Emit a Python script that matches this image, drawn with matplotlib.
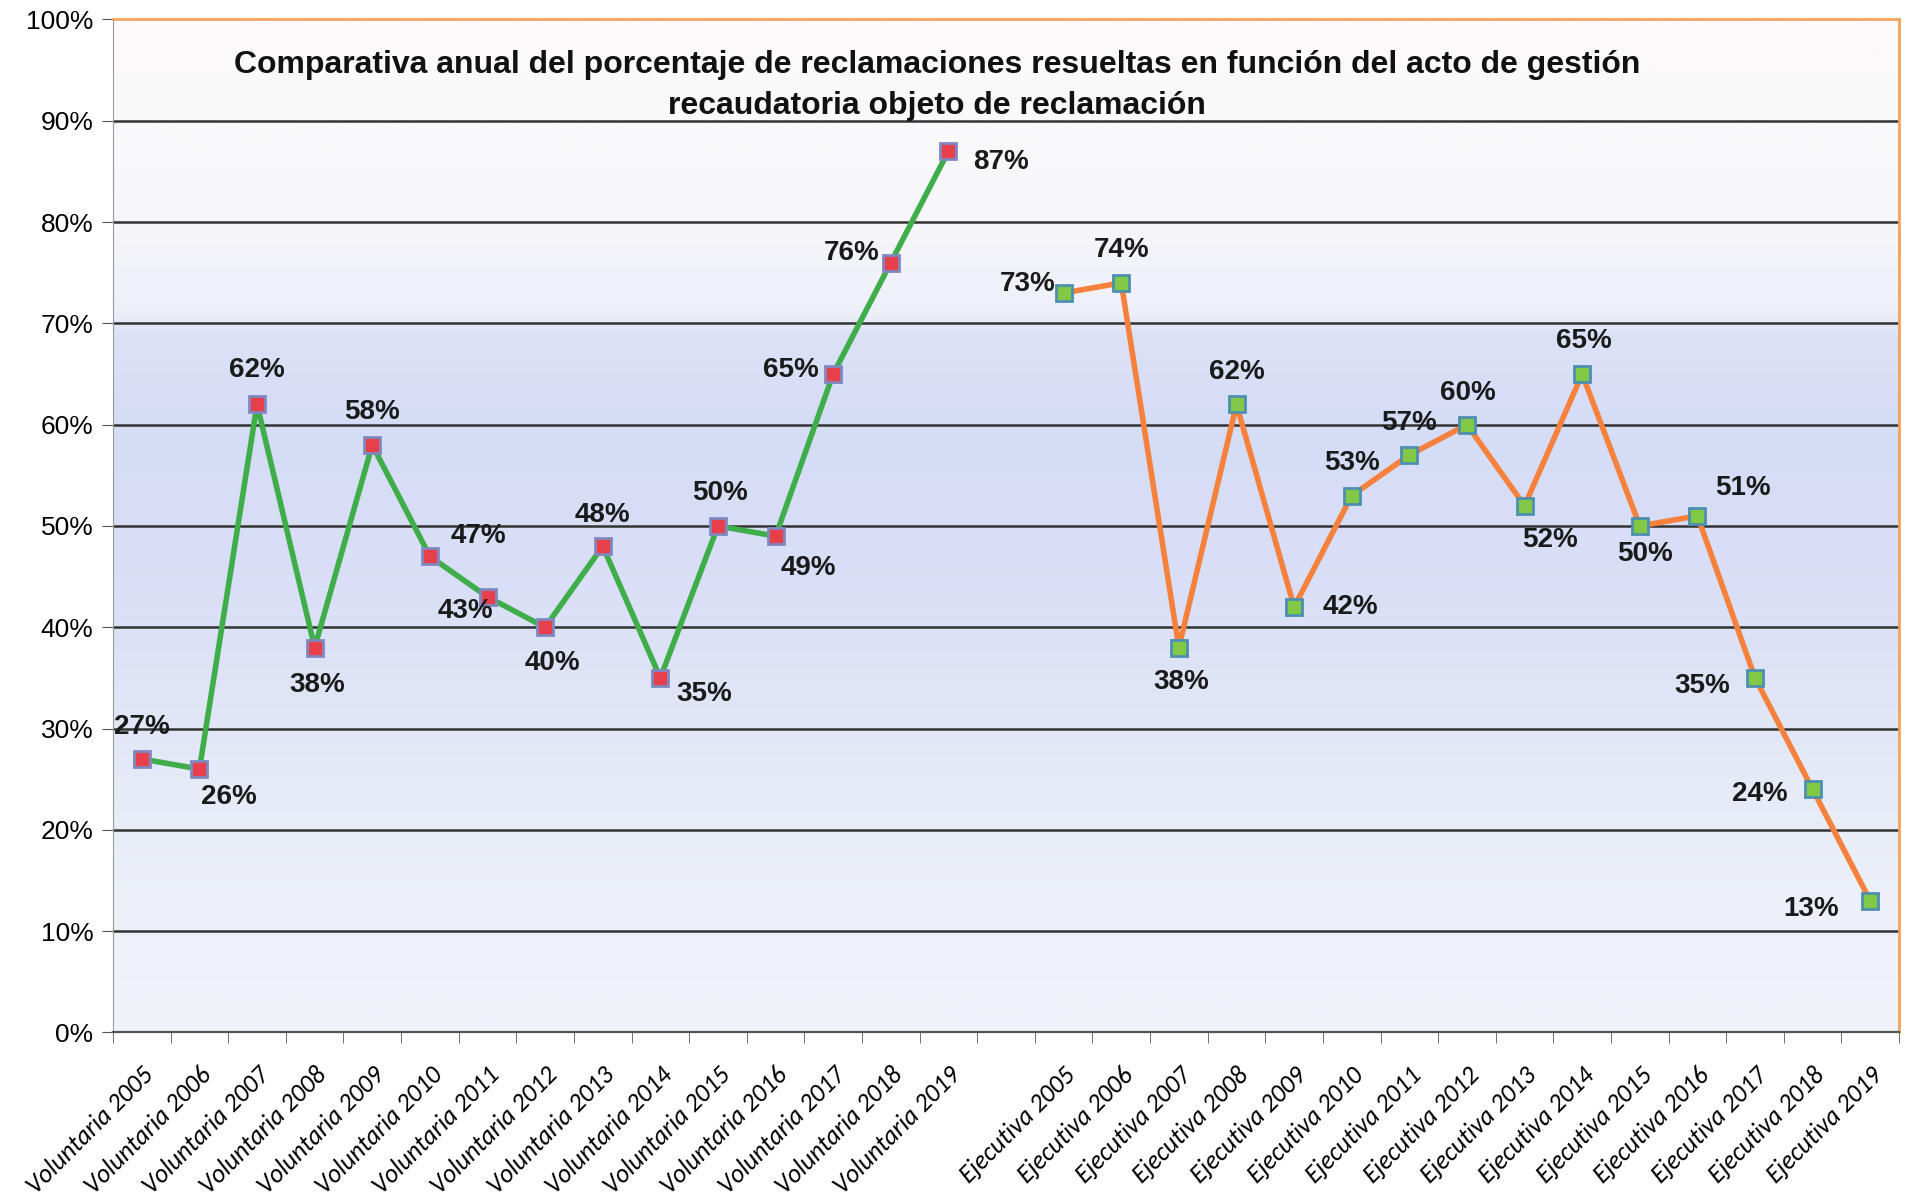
import numpy as np
import matplotlib
matplotlib.use("Agg")
import matplotlib.pyplot as plt
from matplotlib import font_manager

# fuentes disponibles
names = {f.name for f in font_manager.fontManager.ttflist}
narrow = "Liberation Sans Narrow" if "Liberation Sans Narrow" in names else "Liberation Sans"
calibri = "Carlito" if "Carlito" in names else "Lato"

# datos
years = list(range(2005, 2020))
voluntaria = [27, 26, 62, 38, 58, 47, 43, 40, 48, 35, 50, 49, 65, 76, 87]
ejecutiva = [73, 74, 38, 62, 42, 53, 57, 60, 52, 65, 50, 51, 35, 24, 13]
categories = ["Voluntaria %d" % y for y in years] + [""] + ["Ejecutiva %d" % y for y in years]

# desplazamiento de las etiquetas (px de la imagen reducida)
off_vol = [(0, -26), (24, 23), (0, -28), (2, 31), (0, -27), (40, -17), (-18, 12), (6, 29),
           (0, -26), (36, 13), (2, -27), (27, 26), (-35, -3), (-32, -8), (43, 9)]
off_eje = [(-30, -7), (0, -27), (2, 28), (0, -27), (46, 0), (0, -27), (0, -26), (1, -26),
           (21, 28), (1, -27), (4, 23), (37, -23), (-43, 7), (-43, 4), (-49, 7)]

x_vol = np.arange(15)
x_eje = np.arange(16, 31)

fig = plt.figure(figsize=(19.09, 11.95), dpi=100)
ax = fig.add_axes([0.0592, 0.136, 0.9356, 0.8477])

# fondo degradado
stops_y = [0, 10, 20, 30, 45, 60, 69, 71, 80, 90, 100]
stops_r = [241, 238, 233, 226, 216, 213, 220, 238, 246, 250, 252]
stops_g = [243, 241, 237, 231, 223, 220, 226, 240, 246, 249, 249]
stops_b = [249, 249, 248, 247, 246, 245, 246, 249, 250, 250, 249]
yy = np.linspace(0, 100, 400)
grad = np.stack([np.interp(yy, stops_y, stops_r), np.interp(yy, stops_y, stops_g),
                 np.interp(yy, stops_y, stops_b)], axis=1) / 255.0
ax.imshow(grad[:, None, :], origin="lower", aspect="auto",
          extent=[-0.5, 30.5, 0, 100], zorder=0)

for g in range(10, 100, 10):
    ax.axhline(g, color="#333333", lw=1.8, zorder=1)

ax.plot(x_vol, voluntaria, color="#3fae4a", lw=4, zorder=3,
        marker="s", ms=12, mfc="#e8404a", mec="#8088c0", mew=2)
ax.plot(x_eje, ejecutiva, color="#f5813c", lw=4, zorder=3,
        marker="s", ms=12, mfc="#80c846", mec="#4d8fb0", mew=2)

k = 1.2175 * 0.72
for xs, vals, offs in [(x_vol, voluntaria, off_vol), (x_eje, ejecutiva, off_eje)]:
    for x, v, (dx, dy) in zip(xs, vals, offs):
        ax.annotate("%d%%" % v, (x, v), xytext=(dx * k, -dy * k), textcoords="offset points",
                    ha="center", va="center", fontsize=20, fontweight="bold",
                    family=narrow, color="#1a1a1a", zorder=4)

ax.set_xlim(-0.5, 30.5)
ax.set_ylim(0, 100)
ax.set_yticks(range(0, 101, 10))
ax.set_yticklabels(["%d%%" % t for t in range(0, 101, 10)], family=narrow, fontsize=19)
ax.set_xticks(range(31))
ax.set_xticklabels(categories, rotation=45, ha="right", rotation_mode="anchor",
                   family=calibri, style="italic", fontsize=18.5)
ax.set_xticks(np.arange(-0.5, 31, 1), minor=True)
ax.tick_params(axis="x", which="major", length=0, pad=22)
ax.tick_params(axis="x", which="minor", length=8, color="#555555")
ax.tick_params(axis="y", length=8, color="#555555", pad=6)

ax.spines["left"].set_color("#9a9a9a")
ax.spines["bottom"].set_color("#555555")
ax.spines["bottom"].set_linewidth(1.6)
ax.spines["top"].set_color("#f2a25a")
ax.spines["top"].set_linewidth(2)
ax.spines["right"].set_color("#f2a25a")
ax.spines["right"].set_linewidth(2)

fig.text(0.491, 0.9285, "Comparativa anual del porcentaje de reclamaciones resueltas en función del acto de gestión\n"
         "recaudatoria objeto de reclamación", ha="center", va="center", fontsize=23,
         fontweight="bold", family="Liberation Sans", linespacing=1.45, color="#111111")

fig.savefig("out.png", dpi=100)
